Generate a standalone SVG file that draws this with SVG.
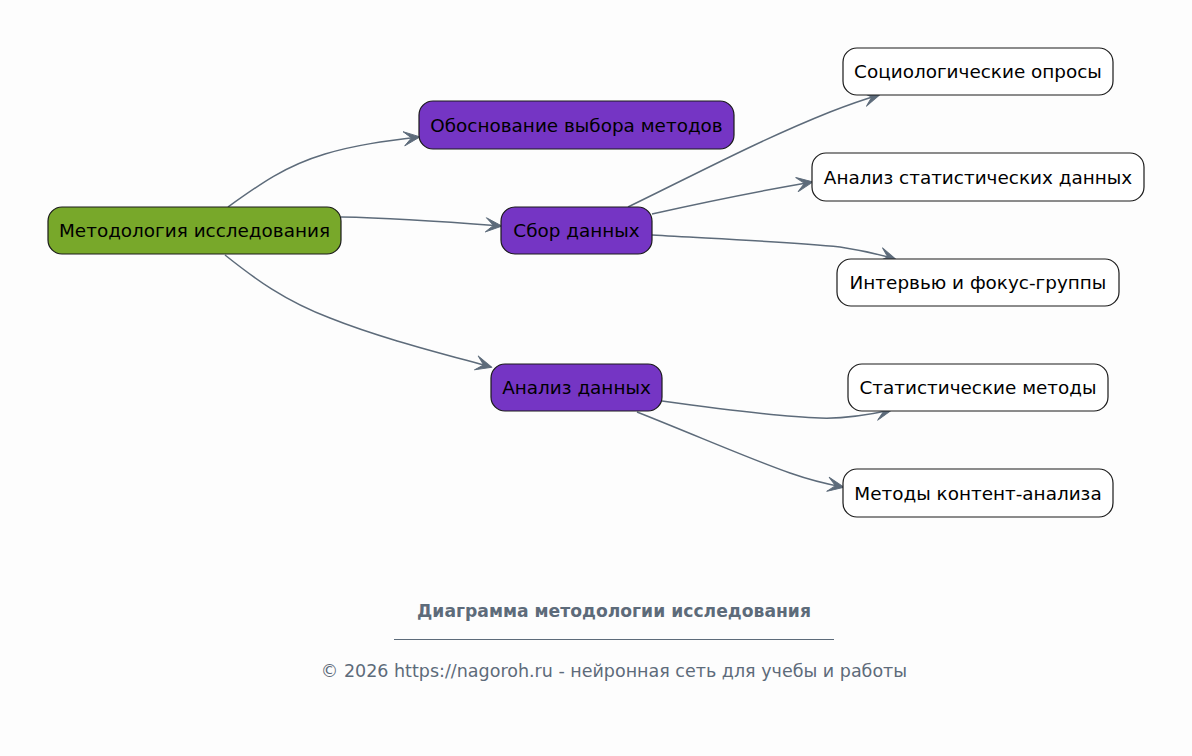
<svg xmlns="http://www.w3.org/2000/svg" width="1192" height="756" viewBox="0 0 1192 756">
<defs>
<style>
.n rect{stroke:#1a1a1a;stroke-width:1.2}
.root rect{fill:#78a82a}
.mid rect{fill:#7535c4}
.leaf rect{fill:#ffffff}
.n text{font-family:"DejaVu Sans",sans-serif;font-size:18.4px;fill:#000;text-anchor:middle;dominant-baseline:central}
.e path{fill:none;stroke:#5d6b7a;stroke-width:1.5;marker-end:url(#arr)}
.ft{font-family:"DejaVu Sans",sans-serif;fill:#5d6b7a;text-anchor:middle}
</style>
<marker id="arr" viewBox="0 0 20 20" refX="17" refY="10" markerWidth="19" markerHeight="19" markerUnits="userSpaceOnUse" orient="auto">
<path d="M1,2.5 L18,10 L1,17.5 L9,10 Z" fill="#5d6b7a" stroke="#5d6b7a" stroke-width="1" stroke-linejoin="round"/>
</marker>
</defs>
<rect width="1192" height="756" fill="#fdfdfd"/>
<g id="connectors" class="e">
<path d="M228,207 C260,184 285,166 325,154 C355,145 385,141 419,137"/>
<path d="M341,217 C400,218 450,222 501,226"/>
<path d="M225,255 C255,279 285,301 330,318 C380,338 440,353 491,367"/>
<path d="M628,207 C700,172 760,140 830,112 C848,105 862,100 879,95"/>
<path d="M652,214 C710,201 760,191 812,182"/>
<path d="M652,235 C720,239 790,242 840,247 C860,250 878,254 895,259"/>
<path d="M662,401 C720,409 780,417 820,418 C845,419 868,415 891,410"/>
<path d="M637,412 C700,437 750,459 790,473 C810,480 826,484 843,487"/>
</g>
<g id="n_root" class="n root"><rect x="48" y="207" width="293" height="47" rx="14"/><text x="194.5" y="230.5">Методология исследования</text></g>
<g id="n_obosn" class="n mid"><rect x="419" y="101" width="315" height="48" rx="14"/><text x="576.5" y="125">Обоснование выбора методов</text></g>
<g id="n_sbor" class="n mid"><rect x="501" y="207" width="151" height="47" rx="14"/><text x="576.5" y="230.5">Сбор данных</text></g>
<g id="n_analiz" class="n mid"><rect x="491" y="364" width="171" height="47" rx="14"/><text x="576.5" y="387.5">Анализ данных</text></g>
<g id="n_socio" class="n leaf"><rect x="843" y="48" width="270" height="47" rx="14"/><text x="978" y="71.5">Социологические опросы</text></g>
<g id="n_stat" class="n leaf"><rect x="812" y="153" width="332" height="48" rx="14"/><text x="978" y="177">Анализ статистических данных</text></g>
<g id="n_interv" class="n leaf"><rect x="837" y="259" width="282" height="47" rx="14"/><text x="978" y="282.5">Интервью и фокус-группы</text></g>
<g id="n_statm" class="n leaf"><rect x="848" y="364" width="260" height="47" rx="14"/><text x="978" y="387.5">Статистические методы</text></g>
<g id="n_kont" class="n leaf"><rect x="843" y="469" width="270" height="48" rx="14"/><text x="978" y="493">Методы контент-анализа</text></g>
<g id="footer">
<text class="ft" x="614" y="617" font-size="17.2" font-weight="bold">Диаграмма методологии исследования</text>
<line x1="394" y1="639.5" x2="834" y2="639.5" stroke="#5d6b7a" stroke-width="1"/>
<text class="ft" x="614" y="677" font-size="17.5">© 2026 https://nagoroh.ru - нейронная сеть для учебы и работы</text>
</g>
</svg>
